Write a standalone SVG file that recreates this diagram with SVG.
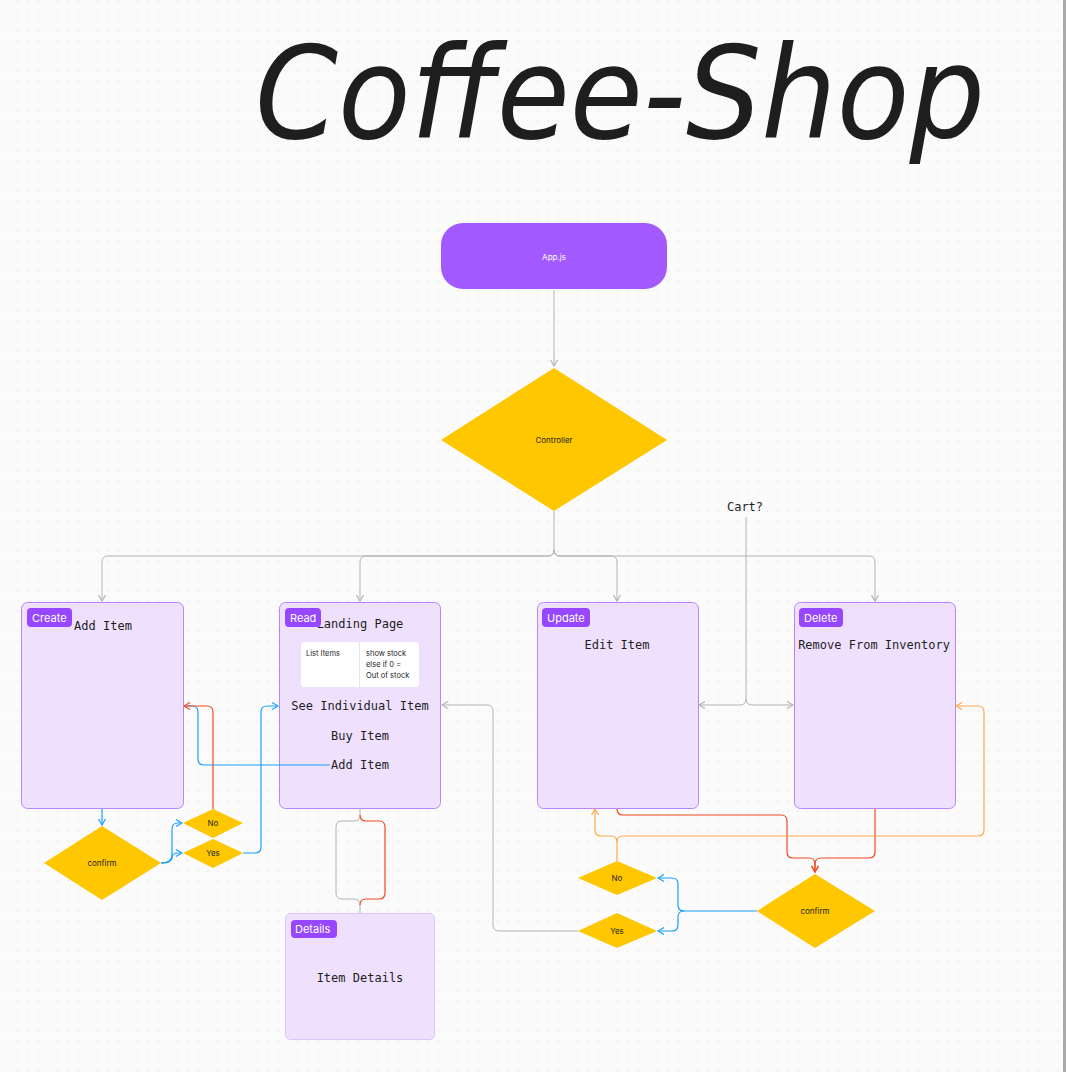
<svg xmlns="http://www.w3.org/2000/svg" width="1066" height="1072" viewBox="0 0 1066 1072">
<defs>
<pattern id="dots" x="0" y="0" width="10" height="10" patternUnits="userSpaceOnUse">
<rect x="7.5" y="0.5" width="1" height="1" fill="#d4d4d4"/>
</pattern>
<marker id="ag" viewBox="0 0 8 8" refX="7" refY="4" markerWidth="8" markerHeight="8" markerUnits="userSpaceOnUse" orient="auto"><path d="M1,0.5 L7,4 L1,7.5" fill="none" stroke="#b3b3b3" stroke-width="1.2"/></marker>
<marker id="ab" viewBox="0 0 8 8" refX="7" refY="4" markerWidth="8" markerHeight="8" markerUnits="userSpaceOnUse" orient="auto"><path d="M1,0.5 L7,4 L1,7.5" fill="none" stroke="#18a0fb" stroke-width="1.2"/></marker>
<marker id="ar" viewBox="0 0 8 8" refX="7" refY="4" markerWidth="8" markerHeight="8" markerUnits="userSpaceOnUse" orient="auto"><path d="M1,0.5 L7,4 L1,7.5" fill="none" stroke="#f24822" stroke-width="1.2"/></marker>
<marker id="ao" viewBox="0 0 8 8" refX="7" refY="4" markerWidth="8" markerHeight="8" markerUnits="userSpaceOnUse" orient="auto"><path d="M1,0.5 L7,4 L1,7.5" fill="none" stroke="#ffa84a" stroke-width="1.2"/></marker>
</defs>
<style>
.box{fill:#efe1fe;stroke:#b985fd;stroke-width:1}
.tag{fill:#9747ff}
.tagt{fill:#ffffff;font-family:Inter,"Noto Sans",sans-serif;font-size:11px}
.mono{fill:#1e1e1e;font-family:"DejaVu Sans Mono","Liberation Mono",monospace;font-size:12px;text-anchor:middle}
.dia{fill:#ffc700}
.dt{fill:#1e1e1e;font-family:Inter,"Noto Sans",sans-serif;font-size:8px;text-anchor:middle}
.small{fill:#1e1e1e;font-family:Inter,"Noto Sans",sans-serif;font-size:7.5px}
.g{fill:none;stroke:#b3b3b3;stroke-width:1}
.b{fill:none;stroke:#18a0fb;stroke-width:1.2}
.r{fill:none;stroke:#f24822;stroke-width:1.2}
.o{fill:none;stroke:#ffa84a;stroke-width:1.2}
</style>
<rect width="1066" height="1072" fill="#fbfbfb"/>
<rect width="1066" height="1072" fill="url(#dots)"/>
<rect x="1063" y="0" width="3" height="1072" fill="#ababab"/>

<text id="title" x="255" y="138" font-family="'DejaVu Sans',sans-serif" font-style="italic" font-size="128" fill="#1e1e1e" textLength="730" lengthAdjust="spacingAndGlyphs">Coffee-Shop</text>

<g id="app">
<rect x="441" y="223" width="226" height="66" rx="22" fill="#a259ff"/>
<text x="554" y="260" fill="#ffffff" font-family="Inter,'Noto Sans',sans-serif" font-size="8" text-anchor="middle">App.js</text>
</g>

<g id="controller">
<polygon class="dia" points="554,368 667,440 554,511 441,440"/>
<text class="dt" x="554" y="443">Controller</text>
</g>

<text id="cart" class="mono" x="745" y="511">Cart?</text>

<g id="create">
<rect class="box" x="21.5" y="602.5" width="162" height="206" rx="6"/>
<rect class="tag" x="27" y="608" width="45" height="19" rx="4"/>
<text class="tagt" x="32" y="622">Create</text>
<text class="mono" x="103" y="630">Add Item</text>
</g>

<g id="read">
<rect class="box" x="279.5" y="602.5" width="161" height="206" rx="6"/>
<text class="mono" x="360" y="628">Landing Page</text>
<rect class="tag" x="285" y="608" width="36" height="19" rx="4"/>
<text class="tagt" x="290" y="622">Read</text>
<rect x="301" y="642" width="118" height="45" rx="4" fill="#ffffff"/>
<line x1="359.5" y1="642" x2="359.5" y2="687" stroke="#e6e6e6"/>
<text class="small" x="306" y="656">List Items</text>
<text class="small" x="366" y="656">show stock</text>
<text class="small" x="366" y="667">else if 0 =</text>
<text class="small" x="366" y="678">Out of stock</text>
<text class="mono" x="360" y="710">See Individual Item</text>
<text class="mono" x="360" y="740">Buy Item</text>
<text class="mono" x="360" y="769">Add Item</text>
</g>

<g id="update">
<rect class="box" x="537.5" y="602.5" width="161" height="206" rx="6"/>
<rect class="tag" x="542" y="608" width="48" height="19" rx="4"/>
<text class="tagt" x="547" y="622">Update</text>
<text class="mono" x="617" y="649">Edit Item</text>
</g>

<g id="delete">
<rect class="box" x="794.5" y="602.5" width="161" height="206" rx="6"/>
<rect class="tag" x="799" y="608" width="44" height="19" rx="4"/>
<text class="tagt" x="804" y="622">Delete</text>
<text class="mono" x="874" y="649">Remove From Inventory</text>
</g>

<g id="details">
<rect x="285.5" y="913.5" width="149" height="126" rx="5" fill="#efe1fe" stroke="#dcc4fe"/>
<rect class="tag" x="291" y="920" width="46" height="18" rx="4"/>
<text class="tagt" x="295" y="933">Details</text>
<text class="mono" x="360" y="982">Item Details</text>
</g>

<g id="confirm1">
<polygon class="dia" points="102,826 161,863 102,900 44,863"/>
<text class="dt" x="102" y="866">confirm</text>
</g>
<g id="no1">
<polygon class="dia" points="213,809 243,823 213,838 183,823"/>
<text class="dt" x="213" y="826">No</text>
</g>
<g id="yes1">
<polygon class="dia" points="213,839 243,853 213,868 183,853"/>
<text class="dt" x="213" y="856">Yes</text>
</g>

<g id="confirm2">
<polygon class="dia" points="815,874 875,911 815,948 757,911"/>
<text class="dt" x="815" y="914">confirm</text>
</g>
<g id="no2">
<polygon class="dia" points="617,861 657,878 617,895 578,878"/>
<text class="dt" x="617" y="881">No</text>
</g>
<g id="yes2">
<polygon class="dia" points="617,913 657,931 617,948 578,931"/>
<text class="dt" x="617" y="934">Yes</text>
</g>

<g id="connectors">
<path class="g" d="M554,290 V366" marker-end="url(#ag)"/>
<path class="g" d="M554,511 V550 Q554,556 548,556 H108 Q102,556 102,562 V601" marker-end="url(#ag)"/>
<path class="g" d="M554,550 Q554,556 548,556 H366 Q360,556 360,562 V601" marker-end="url(#ag)"/>
<path class="g" d="M554,550 Q554,556 560,556 H611 Q617,556 617,562 V601" marker-end="url(#ag)"/>
<path class="g" d="M554,550 Q554,556 560,556 H869 Q875,556 875,562 V601" marker-end="url(#ag)"/>
<path class="g" d="M746,517 V699 Q746,705 740,705 H699" marker-end="url(#ag)"/>
<path class="g" d="M746,699 Q746,705 752,705 H793" marker-end="url(#ag)"/>
<path class="g" d="M578,931 H499 Q493,931 493,925 V711 Q493,705 487,705 H442" marker-end="url(#ag)"/>
<path class="g" d="M360,809 V815 Q360,821 354,821 H342 Q336,821 336,827 V893 Q336,899 342,899 H354 Q360,899 360,905 V913"/>
<path class="r" d="M360,815 Q360,821 366,821 H379 Q385,821 385,827 V893 Q385,899 379,899 H366 Q360,899 360,905"/>
<path class="b" d="M102,809 V825" marker-end="url(#ab)"/>
<path class="b" d="M161,863 Q172,863 172,855 V829 Q172,823 178,823 H182" marker-end="url(#ab)"/>
<path class="b" d="M161,863 Q172,863 172,858 Q172,853 178,853 H182" marker-end="url(#ab)"/>
<path class="b" d="M243,853 H255 Q261,853 261,847 V712 Q261,706 267,706 H278" marker-end="url(#ab)"/>
<path class="b" d="M330,765 H204 Q198,765 198,759 V712 Q198,706 192,706 H186"/>
<path class="r" d="M213,809 V712 Q213,706 207,706 H184" marker-end="url(#ar)"/>
<path class="r" d="M617,809 Q617,815 623,815 H781 Q787,815 787,821 V852 Q787,858 793,858 H809 Q815,858 815,864 V872" marker-end="url(#ar)"/>
<path class="r" d="M875,809 V852 Q875,858 869,858 H821 Q815,858 815,864 V872" marker-end="url(#ar)"/>
<path class="b" d="M757,911 H684 Q678,911 678,905 V884 Q678,878 672,878 H658" marker-end="url(#ab)"/>
<path class="b" d="M684,911 Q678,911 678,917 V925 Q678,931 672,931 H658" marker-end="url(#ab)"/>
<path class="o" d="M617,861 V842 Q617,836 611,836 H601 Q595,836 595,830 V809" marker-end="url(#ao)"/>
<path class="o" d="M617,842 Q617,836 623,836 H978 Q984,836 984,830 V712 Q984,706 978,706 H956" marker-end="url(#ao)"/>
</g>
</svg>
